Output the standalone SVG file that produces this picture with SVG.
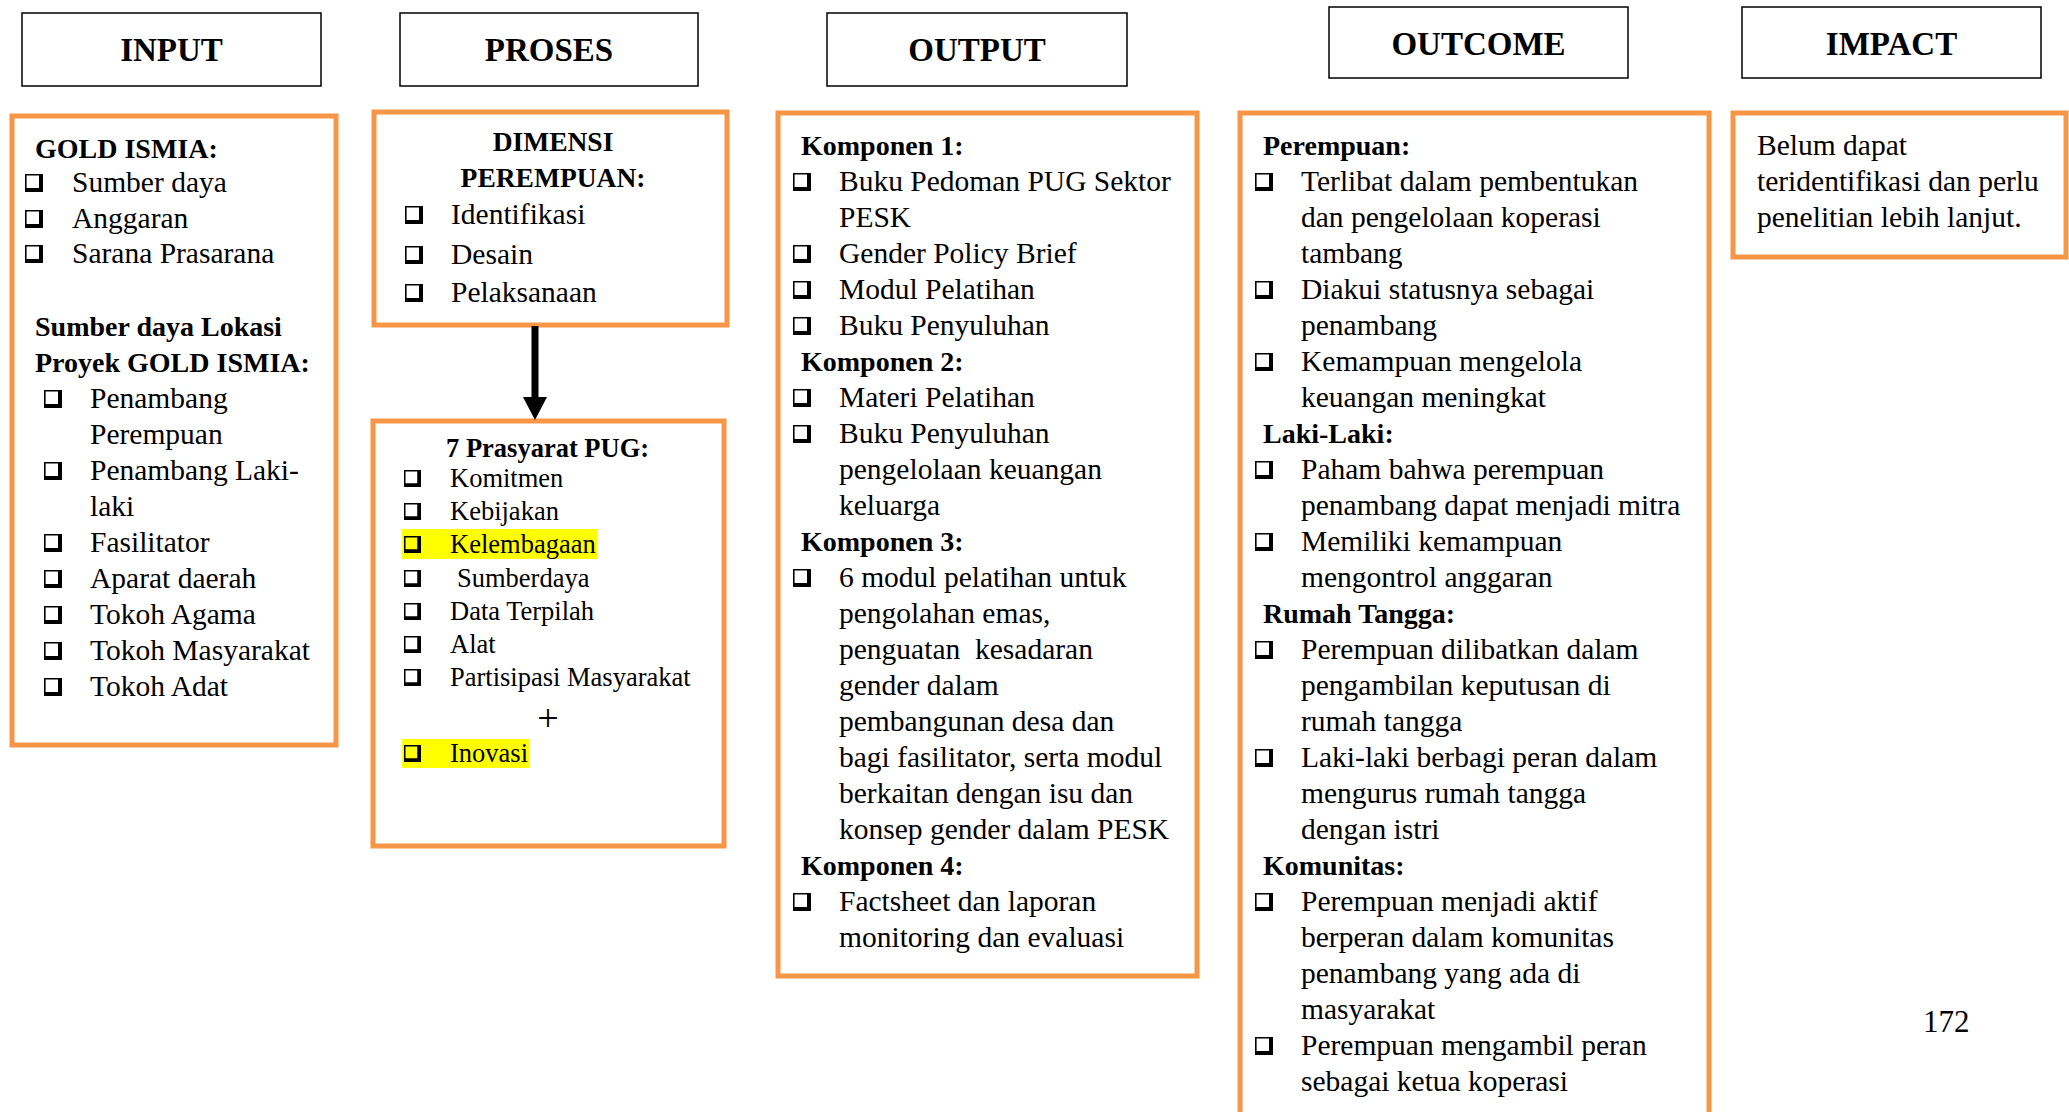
<svg xmlns="http://www.w3.org/2000/svg" xmlns:xlink="http://www.w3.org/1999/xlink" width="2069" height="1112" viewBox="0 0 2069 1112">
<style>
.hdr{fill:#fff;stroke:#000;stroke-width:1.5}
.obox{fill:#fff;stroke:#F79646;stroke-width:5}
.ht{font-family:"Liberation Serif",serif;font-weight:bold;font-size:33px;text-anchor:middle;fill:#000}
.p{font-family:"Liberation Serif",serif;font-size:29.5px;fill:#000}
.pb{font-family:"Liberation Serif",serif;font-size:28px;font-weight:bold;fill:#000}
.t{font-family:"Liberation Serif",serif;font-size:26.5px;fill:#000}
.tb{font-family:"Liberation Serif",serif;font-size:26.5px;font-weight:bold;fill:#000}
.db{font-family:"Liberation Serif",serif;font-size:27.5px;font-weight:bold;text-anchor:middle;fill:#000}
.plus{font-family:"Liberation Serif",serif;font-size:38px;text-anchor:middle;fill:#000}
.pg{font-family:"Liberation Serif",serif;font-size:31px;fill:#000}
.hl{fill:#FFFF00}
</style>
<defs>
<symbol id="bx" viewBox="0 0 18 18"><path d="M0 0H18V18H0Z M1.6 1.6V14V14H14V1.6Z" fill="#000" fill-rule="evenodd"/></symbol>
<marker id="ah" viewBox="0 0 23 24" refX="0" refY="12" markerWidth="23" markerHeight="24" markerUnits="userSpaceOnUse" orient="auto"><path d="M0 0L23 12L0 24Z" fill="#000"/></marker>
</defs>
<rect width="2069" height="1112" fill="#fff"/>

<g id="hdr-input"><rect class="hdr" x="22" y="13" width="299" height="73"/><text class="ht" x="171.5" y="61">INPUT</text></g>
<g id="hdr-proses"><rect class="hdr" x="400" y="13" width="298" height="73"/><text class="ht" x="549" y="61">PROSES</text></g>
<g id="hdr-output"><rect class="hdr" x="827" y="13" width="300" height="73"/><text class="ht" x="977" y="61">OUTPUT</text></g>
<g id="hdr-outcome"><rect class="hdr" x="1329" y="7" width="299" height="71"/><text class="ht" x="1478.5" y="54.5">OUTCOME</text></g>
<g id="hdr-impact"><rect class="hdr" x="1742" y="7" width="299" height="71"/><text class="ht" x="1891.5" y="54.5">IMPACT</text></g>

<g id="box-input">
<rect class="obox" x="12" y="116" width="324" height="629"/>
<text class="pb" x="35" y="158">GOLD ISMIA:</text>
<use xlink:href="#bx" x="25" y="174" width="18" height="18"/><text class="p" x="72" y="192">Sumber daya</text>
<use xlink:href="#bx" x="25" y="210" width="18" height="18"/><text class="p" x="72" y="228">Anggaran</text>
<use xlink:href="#bx" x="25" y="245" width="18" height="18"/><text class="p" x="72" y="263">Sarana Prasarana</text>
<text class="pb" x="35" y="336">Sumber daya Lokasi</text>
<text class="pb" x="35" y="372">Proyek GOLD ISMIA:</text>
<use xlink:href="#bx" x="44" y="390" width="18" height="18"/><text class="p" x="90" y="408">Penambang</text>
<text class="p" x="90" y="444">Perempuan</text>
<use xlink:href="#bx" x="44" y="462" width="18" height="18"/><text class="p" x="90" y="480">Penambang Laki-</text>
<text class="p" x="90" y="516">laki</text>
<use xlink:href="#bx" x="44" y="534" width="18" height="18"/><text class="p" x="90" y="552">Fasilitator</text>
<use xlink:href="#bx" x="44" y="570" width="18" height="18"/><text class="p" x="90" y="588">Aparat daerah</text>
<use xlink:href="#bx" x="44" y="606" width="18" height="18"/><text class="p" x="90" y="624">Tokoh Agama</text>
<use xlink:href="#bx" x="44" y="642" width="18" height="18"/><text class="p" x="90" y="660">Tokoh Masyarakat</text>
<use xlink:href="#bx" x="44" y="678" width="18" height="18"/><text class="p" x="90" y="696">Tokoh Adat</text>
</g>

<g id="box-dimensi">
<rect class="obox" x="374" y="112" width="353" height="213"/>
<text class="db" x="553" y="151">DIMENSI</text>
<text class="db" x="553" y="187">PEREMPUAN:</text>
<use xlink:href="#bx" x="405" y="206" width="18" height="18"/><text class="p" x="451" y="224">Identifikasi</text>
<use xlink:href="#bx" x="405" y="246" width="18" height="18"/><text class="p" x="451" y="264">Desain</text>
<use xlink:href="#bx" x="405" y="284" width="18" height="18"/><text class="p" x="451" y="302">Pelaksanaan</text>
</g>

<g id="box-prasyarat">
<rect class="obox" x="373" y="421" width="351" height="425"/>
<rect class="hl" x="402" y="529" width="195" height="30"/>
<rect class="hl" x="402" y="739" width="127" height="29"/>
<text class="tb" x="446" y="457">7 Prasyarat PUG:</text>
<use xlink:href="#bx" x="404" y="470" width="17" height="17"/><text class="t" x="450" y="487">Komitmen</text>
<use xlink:href="#bx" x="404" y="503" width="17" height="17"/><text class="t" x="450" y="520">Kebijakan</text>
<use xlink:href="#bx" x="404" y="536" width="17" height="17"/><text class="t" x="450" y="553">Kelembagaan</text>
<use xlink:href="#bx" x="404" y="570" width="17" height="17"/><text class="t" x="457" y="587">Sumberdaya</text>
<use xlink:href="#bx" x="404" y="603" width="17" height="17"/><text class="t" x="450" y="620">Data Terpilah</text>
<use xlink:href="#bx" x="404" y="636" width="17" height="17"/><text class="t" x="450" y="653">Alat</text>
<use xlink:href="#bx" x="404" y="669" width="17" height="17"/><text class="t" x="450" y="686">Partisipasi Masyarakat</text>
<text class="plus" x="548" y="731">+</text>
<use xlink:href="#bx" x="404" y="745" width="17" height="17"/><text class="t" x="450" y="762">Inovasi</text>
</g>

<g id="box-output">
<rect class="obox" x="778" y="113" width="419" height="863"/>
<text class="pb" x="801" y="155">Komponen 1:</text>
<use xlink:href="#bx" x="793" y="173" width="18" height="18"/><text class="p" x="839" y="191">Buku Pedoman PUG Sektor</text>
<text class="p" x="839" y="227">PESK</text>
<use xlink:href="#bx" x="793" y="245" width="18" height="18"/><text class="p" x="839" y="263">Gender Policy Brief</text>
<use xlink:href="#bx" x="793" y="281" width="18" height="18"/><text class="p" x="839" y="299">Modul Pelatihan</text>
<use xlink:href="#bx" x="793" y="317" width="18" height="18"/><text class="p" x="839" y="335">Buku Penyuluhan</text>
<text class="pb" x="801" y="371">Komponen 2:</text>
<use xlink:href="#bx" x="793" y="389" width="18" height="18"/><text class="p" x="839" y="407">Materi Pelatihan</text>
<use xlink:href="#bx" x="793" y="425" width="18" height="18"/><text class="p" x="839" y="443">Buku Penyuluhan</text>
<text class="p" x="839" y="479">pengelolaan keuangan</text>
<text class="p" x="839" y="515">keluarga</text>
<text class="pb" x="801" y="551">Komponen 3:</text>
<use xlink:href="#bx" x="793" y="569" width="18" height="18"/><text class="p" x="839" y="587">6 modul pelatihan untuk</text>
<text class="p" x="839" y="623">pengolahan emas,</text>
<text class="p" x="839" y="659" xml:space="preserve">penguatan  kesadaran</text>
<text class="p" x="839" y="695">gender dalam</text>
<text class="p" x="839" y="731">pembangunan desa dan</text>
<text class="p" x="839" y="767">bagi fasilitator, serta modul</text>
<text class="p" x="839" y="803">berkaitan dengan isu dan</text>
<text class="p" x="839" y="839">konsep gender dalam PESK</text>
<text class="pb" x="801" y="875">Komponen 4:</text>
<use xlink:href="#bx" x="793" y="893" width="18" height="18"/><text class="p" x="839" y="911">Factsheet dan laporan</text>
<text class="p" x="839" y="947">monitoring dan evaluasi</text>
</g>

<g id="box-outcome">
<rect class="obox" x="1240" y="113" width="469" height="1030"/>
<text class="pb" x="1263" y="155">Perempuan:</text>
<use xlink:href="#bx" x="1255" y="173" width="18" height="18"/><text class="p" x="1301" y="191">Terlibat dalam pembentukan</text>
<text class="p" x="1301" y="227">dan pengelolaan koperasi</text>
<text class="p" x="1301" y="263">tambang</text>
<use xlink:href="#bx" x="1255" y="281" width="18" height="18"/><text class="p" x="1301" y="299">Diakui statusnya sebagai</text>
<text class="p" x="1301" y="335">penambang</text>
<use xlink:href="#bx" x="1255" y="353" width="18" height="18"/><text class="p" x="1301" y="371">Kemampuan mengelola</text>
<text class="p" x="1301" y="407">keuangan meningkat</text>
<text class="pb" x="1263" y="443">Laki-Laki:</text>
<use xlink:href="#bx" x="1255" y="461" width="18" height="18"/><text class="p" x="1301" y="479">Paham bahwa perempuan</text>
<text class="p" x="1301" y="515">penambang dapat menjadi mitra</text>
<use xlink:href="#bx" x="1255" y="533" width="18" height="18"/><text class="p" x="1301" y="551">Memiliki kemampuan</text>
<text class="p" x="1301" y="587">mengontrol anggaran</text>
<text class="pb" x="1263" y="623">Rumah Tangga:</text>
<use xlink:href="#bx" x="1255" y="641" width="18" height="18"/><text class="p" x="1301" y="659">Perempuan dilibatkan dalam</text>
<text class="p" x="1301" y="695">pengambilan keputusan di</text>
<text class="p" x="1301" y="731">rumah tangga</text>
<use xlink:href="#bx" x="1255" y="749" width="18" height="18"/><text class="p" x="1301" y="767">Laki-laki berbagi peran dalam</text>
<text class="p" x="1301" y="803">mengurus rumah tangga</text>
<text class="p" x="1301" y="839">dengan istri</text>
<text class="pb" x="1263" y="875">Komunitas:</text>
<use xlink:href="#bx" x="1255" y="893" width="18" height="18"/><text class="p" x="1301" y="911">Perempuan menjadi aktif</text>
<text class="p" x="1301" y="947">berperan dalam komunitas</text>
<text class="p" x="1301" y="983">penambang yang ada di</text>
<text class="p" x="1301" y="1019">masyarakat</text>
<use xlink:href="#bx" x="1255" y="1037" width="18" height="18"/><text class="p" x="1301" y="1055">Perempuan mengambil peran</text>
<text class="p" x="1301" y="1091">sebagai ketua koperasi</text>
</g>

<g id="box-impact">
<rect class="obox" x="1733" y="113" width="333" height="144"/>
<text class="p" x="1757" y="155">Belum dapat</text>
<text class="p" x="1757" y="191">teridentifikasi dan perlu</text>
<text class="p" x="1757" y="227">penelitian lebih lanjut.</text>
</g>

<g id="page-number"><text class="pg" x="1923" y="1032">172</text></g>

<g id="connectors">
<line x1="535" y1="326" x2="535" y2="397" stroke="#000" stroke-width="7" marker-end="url(#ah)"/>
</g>
</svg>
